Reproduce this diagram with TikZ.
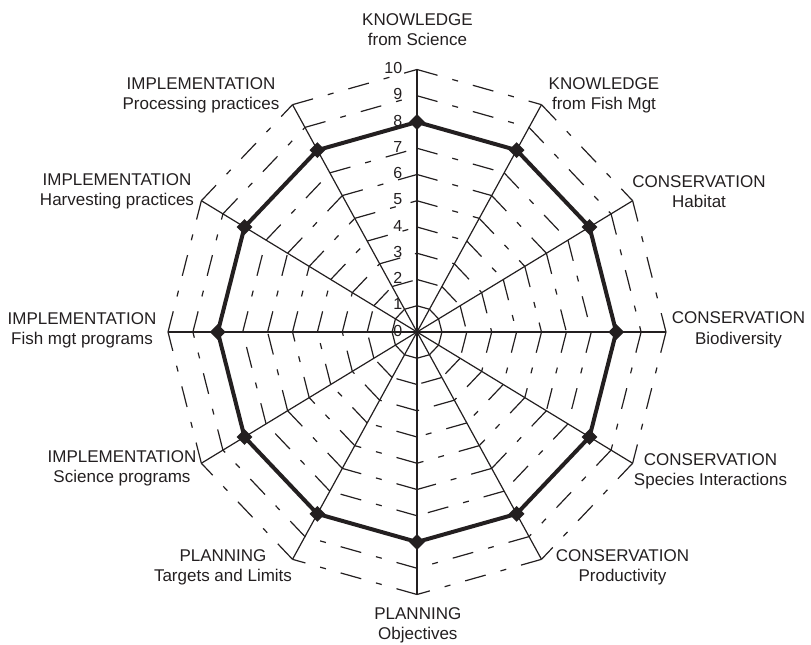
\documentclass[tikz,border=0pt]{standalone}
\usepackage{fontspec}
\setmainfont{Liberation Sans}
\usetikzlibrary{shapes.geometric}
\definecolor{ink}{RGB}{35,31,32}
\begin{document}
\begin{tikzpicture}[x=0.75pt,y=-0.75pt,
  axisline/.style={ink,line width=0.9pt},
  ringline/.style={ink,line width=0.9pt,dash pattern=on 16pt off 11.5pt on 4.5pt off 11.5pt},
  scoreline/.style={ink,line width=3pt,line join=miter},
  scoremark/.style={diamond,fill=ink,inner sep=0pt,minimum size=12pt},
  cat/.style={ink,font=\fontsize{12.75}{15}\selectfont,anchor=base,inner sep=0pt},
  tick/.style={ink,font=\fontsize{12}{14}\selectfont,anchor=east,inner sep=0pt}]
\useasboundingbox (0,0) rectangle (811,645);
% radar grid, axes and scores (polar, one unit per scale step)
\begin{scope}[shift={(417,332)},x={(18.675pt,0pt)},y={(0pt,19.6875pt)}]
  \coordinate (c) at (0,0);
  \foreach \i in {0,...,11}{
    \pgfmathsetmacro\a{90-30*\i}
    \coordinate (e\i) at (\a:10);
    \coordinate (s\i) at (\a:8);
  }
  % scale rings, drawn clockwise segment by segment
  \foreach \r in {1,...,10}{
    \foreach \i in {0,...,11}{
      \pgfmathsetmacro\a{90-30*\i}
      \pgfmathsetmacro\b{60-30*\i}
      \draw[ringline] (\a:\r) -- (\b:\r);
    }
  }
  % spokes
  \foreach \i in {0,...,11} \draw[axisline] (c) -- (e\i);
  % scores
  \draw[scoreline] (s0) \foreach \i in {1,...,11}{ -- (s\i)} -- cycle;
  \foreach \i in {0,...,11} \node[scoremark] (m\i) at (s\i) {};
  % scale numbers
  \foreach \r in {0,...,10} \node[tick,xshift=-10.9pt,yshift=1.1pt] (t\r) at (0,\r) {\r};
\end{scope}
% category labels
\node[cat] (l1a) at (417.5,26) {KNOWLEDGE};
\node[cat] (l1b) at (417.5,46) {from Science};
\node[cat] (l2a) at (604,89.3) {KNOWLEDGE};
\node[cat] (l2b) at (604,110) {from Fish Mgt};
\node[cat] (l3a) at (699,188) {CONSERVATION};
\node[cat] (l3b) at (699,208) {Habitat};
\node[cat] (l4a) at (738.5,324) {CONSERVATION};
\node[cat] (l4b) at (738.5,344.3) {Biodiversity};
\node[cat] (l5a) at (710.5,465) {CONSERVATION};
\node[cat] (l5b) at (710.5,485) {Species Interactions};
\node[cat] (l6a) at (622.5,561) {CONSERVATION};
\node[cat] (l6b) at (622.5,581) {Productivity};
\node[cat] (l7a) at (417.8,619.3) {PLANNING};
\node[cat] (l7b) at (417.8,639.3) {Objectives};
\node[cat] (l8a) at (223,561.7) {PLANNING};
\node[cat] (l8b) at (223,581.7) {Targets and Limits};
\node[cat] (l9a) at (122,463) {IMPLEMENTATION};
\node[cat] (l9b) at (122,483) {Science programs};
\node[cat] (l10a) at (82,325) {IMPLEMENTATION};
\node[cat] (l10b) at (82,344.3) {Fish mgt programs};
\node[cat] (l11a) at (117,186) {IMPLEMENTATION};
\node[cat] (l11b) at (117,206) {Harvesting practices};
\node[cat] (l12a) at (201,89.3) {IMPLEMENTATION};
\node[cat] (l12b) at (201,110) {Processing practices};
\end{tikzpicture}
\end{document}
